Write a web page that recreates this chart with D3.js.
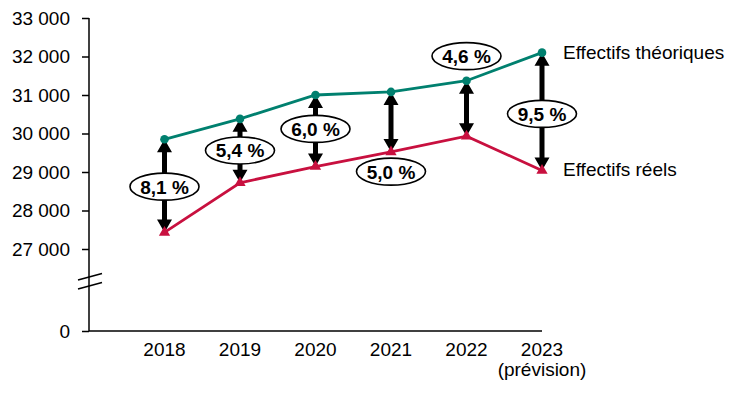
<!DOCTYPE html>
<html>
    <head>
        <meta charset="UTF-8">
        <title>Effectifs théoriques et réels</title>
        <script src="https://d3js.org/d3.v7.min.js" charset="utf-8"></script>
        <style>
            body { margin: 0; background: #fff; }
            text { font-family: "Liberation Sans", Arial, sans-serif; fill: #000; }
        </style>
    </head>
    <body>
        <script>
            // donnees
            var annees = ["2018", "2019", "2020", "2021", "2022", "2023"];
            var sousTitres = ["", "", "", "", "", "(prévision)"];
            var theoriques = [29850, 30380, 31000, 31080, 31370, 32100];
            var reels = [27430, 28720, 29140, 29520, 29930, 29040];
            var ecarts = ["8,1 %", "5,4 %", "6,0 %", "5,0 %", "4,6 %", "9,5 %"];
            // position de l'etiquette : valeur ou placer le centre de l'ellipse
            var positionsEcart = [28620, 29560, 30120, 29010, 32010, 30510];
            var ticksY = [0, 27000, 28000, 29000, 30000, 31000, 32000, 33000];

            var width = 736, height = 393;
            var teal = "#00806f", rouge = "#c8103f";
            var taille = "19px";

            var svg = d3.select("body").append("svg")
                .attr("width", width)
                .attr("height", height);

            var x = d3.scaleLinear().domain([-1, annees.length - 1]).range([89, 542]);
            // axe coupe : 0 en bas, puis 26 000 - 33 000
            var y = d3.scaleLinear().domain([0, 26000, 33000]).range([331, 287.5, 18]);

            // axe Y
            var axeY = svg.append("g")
                .attr("transform", "translate(89,0)")
                .call(d3.axisLeft(y).tickValues(ticksY).tickSize(7).tickPadding(12)
                    .tickFormat(function(d){ return d3.format(",")(d).replace(",", " "); }));
            axeY.select(".domain").attr("stroke", "#000").attr("stroke-width", 1.5).attr("d", "M0," + y(33000) + "V" + y(0));
            axeY.selectAll(".tick line").attr("stroke", "#000").attr("stroke-width", 1.5);
            axeY.selectAll(".tick text").attr("font-size", taille).attr("font-family", "Liberation Sans, Arial, sans-serif");

            // marque de coupure
            var coupure = svg.append("g").attr("stroke", "#000").attr("stroke-width", 1.6);
            [280, 289].forEach(function(cy){
                coupure.append("line")
                    .attr("x1", 78).attr("y1", cy)
                    .attr("x2", 102).attr("y2", cy - 6.5);
            });

            // axe X
            svg.append("line")
                .attr("x1", x(-1)).attr("x2", x(annees.length - 1))
                .attr("y1", y(0)).attr("y2", y(0))
                .attr("stroke", "#000").attr("stroke-width", 1.5);

            svg.append("g").selectAll("text.annee").data(annees).enter().append("text")
                .attr("class", "annee")
                .attr("x", function(d, i){ return x(i); })
                .attr("y", 356)
                .attr("text-anchor", "middle")
                .attr("font-size", taille)
                .text(function(d){ return d; });
            svg.append("g").selectAll("text.sous").data(sousTitres).enter().append("text")
                .attr("class", "sous")
                .attr("x", function(d, i){ return x(i); })
                .attr("y", 376)
                .attr("text-anchor", "middle")
                .attr("font-size", taille)
                .text(function(d){ return d; });

            // fleches doubles entre les deux courbes
            var tete = 13, demiTete = 7.5, demiTrait = 2.5;
            svg.append("g").selectAll("path.fleche").data(annees).enter().append("path")
                .attr("class", "fleche")
                .attr("fill", "#000")
                .attr("d", function(d, i){
                    var cx = x(i), y1 = y(theoriques[i]), y2 = y(reels[i]);
                    return "M" + cx + "," + y1
                        + "L" + (cx + demiTete) + "," + (y1 + tete)
                        + "L" + (cx + demiTrait) + "," + (y1 + tete)
                        + "L" + (cx + demiTrait) + "," + (y2 - tete)
                        + "L" + (cx + demiTete) + "," + (y2 - tete)
                        + "L" + cx + "," + y2
                        + "L" + (cx - demiTete) + "," + (y2 - tete)
                        + "L" + (cx - demiTrait) + "," + (y2 - tete)
                        + "L" + (cx - demiTrait) + "," + (y1 + tete)
                        + "L" + (cx - demiTete) + "," + (y1 + tete) + "Z";
                });

            // courbes
            var ligne = d3.line()
                .x(function(d, i){ return x(i); })
                .y(function(d){ return y(d); });

            svg.append("path").datum(theoriques)
                .attr("fill", "none").attr("stroke", teal).attr("stroke-width", 2.8)
                .attr("d", ligne);
            svg.append("path").datum(reels)
                .attr("fill", "none").attr("stroke", rouge).attr("stroke-width", 2.8)
                .attr("d", ligne);

            svg.append("g").selectAll("circle").data(theoriques).enter().append("circle")
                .attr("cx", function(d, i){ return x(i); })
                .attr("cy", function(d){ return y(d); })
                .attr("r", 4.3)
                .attr("fill", teal);
            svg.append("g").selectAll("path.tri").data(reels).enter().append("path")
                .attr("class", "tri")
                .attr("fill", rouge)
                .attr("transform", function(d, i){ return "translate(" + x(i) + "," + y(d) + ")"; })
                .attr("d", d3.symbol().type(d3.symbolTriangle).size(55));

            // etiquettes d'ecart
            var etiquettes = svg.append("g").selectAll("g").data(ecarts).enter().append("g")
                .attr("transform", function(d, i){ return "translate(" + x(i) + "," + y(positionsEcart[i]) + ")"; });
            etiquettes.append("ellipse")
                .attr("rx", 34.5).attr("ry", 13.5)
                .attr("fill", "#fff").attr("stroke", "#000").attr("stroke-width", 1.6);
            etiquettes.append("text")
                .attr("text-anchor", "middle")
                .attr("y", 7)
                .attr("font-size", taille)
                .attr("font-weight", "bold")
                .text(function(d){ return d; });

            // noms des series
            svg.append("text")
                .attr("x", 563).attr("y", 59)
                .attr("font-size", taille)
                .text("Effectifs théoriques");
            svg.append("text")
                .attr("x", 563).attr("y", 176)
                .attr("font-size", taille)
                .text("Effectifs réels");
        </script>
    </body>
</html>
